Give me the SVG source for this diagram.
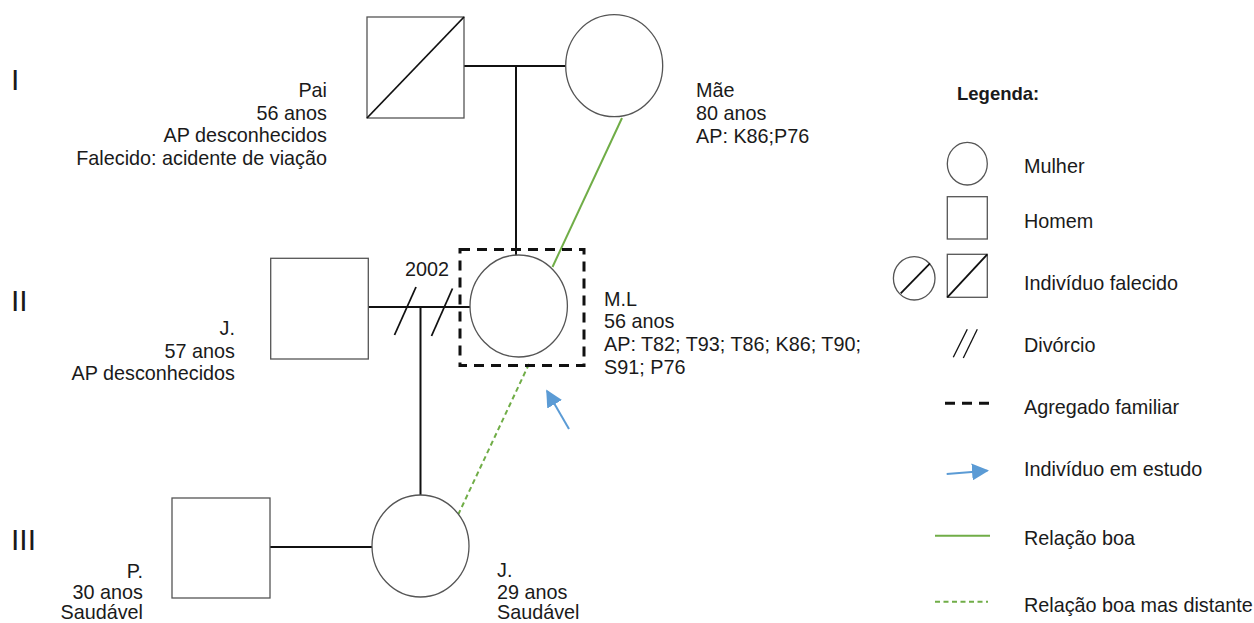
<svg xmlns="http://www.w3.org/2000/svg" width="1254" height="623" viewBox="0 0 1254 623">
<defs>
<style>
text{font-family:"Liberation Sans",Arial,sans-serif;font-size:19.8px;fill:#1a1a1a}
.r{text-anchor:end}
.gen{font-size:30px}
.b{font-weight:bold;font-size:18.5px}
.shape{fill:#fff;stroke:#555;stroke-width:1.3}
.diag{stroke:#111;stroke-width:1.8}
.con{stroke:#111;stroke-width:2;fill:none}
.good{stroke:#70ad47;stroke-width:2;fill:none}
.dist{stroke:#70ad47;stroke-width:2;fill:none;stroke-dasharray:5 3.5}
.box{stroke:#111;stroke-width:3;fill:none;stroke-dasharray:10 7}
.arr{stroke:#5b9bd5;stroke-width:2;fill:none}
</style>
<marker id="ahb" viewBox="0 0 10 10" refX="9" refY="5" markerWidth="17" markerHeight="17" markerUnits="userSpaceOnUse" orient="auto">
<path d="M0,0 L10,5 L0,10 Z" fill="#5b9bd5"/>
</marker>
</defs>
<rect width="1254" height="623" fill="#fff"/>

<g id="generations">
<text class="gen" x="11" y="90">I</text>
<text class="gen" x="11" y="311">II</text>
<text class="gen" x="11" y="550">III</text>
</g>

<g id="connectors">
<line class="con" x1="464" y1="66" x2="566" y2="66"/>
<line class="con" x1="516" y1="66" x2="516" y2="255"/>
<line class="con" x1="368" y1="307" x2="470" y2="307"/>
<line class="con" x1="420.5" y1="307" x2="420.5" y2="495"/>
<line class="con" x1="270" y1="547" x2="372" y2="547"/>
<line class="diag" x1="394.5" y1="335" x2="416" y2="287"/>
<line class="diag" x1="431.5" y1="336" x2="452.5" y2="288.5"/>
<line class="good" x1="622" y1="118" x2="552.5" y2="267"/>
<line class="dist" x1="529" y1="364" x2="458.5" y2="514"/>
<line class="arr" x1="569" y1="429" x2="547" y2="391" marker-end="url(#ahb)"/>
</g>

<g id="pai">
<rect class="shape" x="367" y="17" width="97" height="101"/>
<line class="diag" x1="367" y1="118" x2="464" y2="17"/>
<text class="r" x="327" y="97">Pai</text>
<text class="r" x="327" y="119.5">56 anos</text>
<text class="r" x="327" y="142.2">AP desconhecidos</text>
<text class="r" x="327" y="165">Falecido: acidente de viação</text>
</g>

<g id="mae">
<ellipse class="shape" cx="614.2" cy="65.7" rx="48.5" ry="51"/>
<text x="696" y="97">Mãe</text>
<text x="696" y="119.5">80 anos</text>
<text x="696" y="142.5">AP: K86;P76</text>
</g>

<g id="j-pai">
<rect class="shape" x="270.7" y="258.3" width="97.6" height="100.7"/>
<text class="r" x="235" y="335">J.</text>
<text class="r" x="235" y="357.7">57 anos</text>
<text class="r" x="235" y="380.3">AP desconhecidos</text>
<text x="405" y="276">2002</text>
</g>

<g id="ml">
<rect class="box" x="460" y="249.5" width="124" height="116"/>
<ellipse class="shape" cx="518.7" cy="306" rx="48.7" ry="51"/>
<text x="604" y="305.7">M.L</text>
<text x="604" y="328.3">56 anos</text>
<text x="604" y="351.3">AP: T82; T93; T86; K86; T90;</text>
<text x="604" y="374">S91; P76</text>
</g>

<g id="p">
<rect class="shape" x="172" y="498" width="98" height="100"/>
<text class="r" x="143" y="577.5">P.</text>
<text class="r" x="143" y="599">30 anos</text>
<text class="r" x="143" y="618.5">Saudável</text>
</g>

<g id="j-filha">
<ellipse class="shape" cx="420.5" cy="546" rx="48.5" ry="51"/>
<text x="497" y="577">J.</text>
<text x="497" y="598.5">29 anos</text>
<text x="497" y="618.5">Saudável</text>
</g>

<g id="legenda">
<text class="b" x="957" y="100">Legenda:</text>
<ellipse class="shape" cx="967.3" cy="163.7" rx="20" ry="21.3"/>
<text x="1024" y="173.3">Mulher</text>
<rect class="shape" x="947.3" y="196.7" width="40" height="42.3"/>
<text x="1024" y="228.3">Homem</text>
<ellipse class="shape" cx="914.2" cy="278.3" rx="20.8" ry="21.7"/>
<line class="diag" x1="900.7" y1="293.3" x2="930" y2="263.3"/>
<rect class="shape" x="947.3" y="254.3" width="40" height="43"/>
<line class="diag" x1="947.3" y1="297.3" x2="987.3" y2="254.3"/>
<text x="1024" y="290">Indivíduo falecido</text>
<line class="diag" style="stroke-width:1.3" x1="953.3" y1="357.3" x2="967.3" y2="329.3"/>
<line class="diag" style="stroke-width:1.3" x1="963.3" y1="358" x2="977.3" y2="329.3"/>
<text x="1024" y="352.3">Divórcio</text>
<line class="box" x1="945" y1="403.3" x2="990" y2="403.3"/>
<text x="1024" y="414.3">Agregado familiar</text>
<line class="arr" x1="946.7" y1="474" x2="987.3" y2="470.7" marker-end="url(#ahb)"/>
<text x="1024" y="476">Indivíduo em estudo</text>
<line class="good" x1="935" y1="535.7" x2="990" y2="535.7"/>
<text x="1024" y="545">Relação boa</text>
<line class="dist" x1="935" y1="601.7" x2="988" y2="601.7"/>
<text x="1024" y="611.7">Relação boa mas distante</text>
</g>
</svg>
